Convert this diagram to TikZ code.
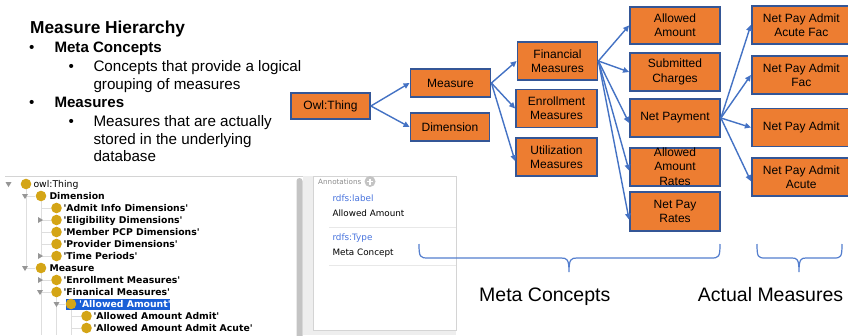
\documentclass[tikz,border=0pt]{standalone}
\usepackage{fontspec}
\setmainfont{Liberation Sans}
\newfontfamily\uifont{DejaVu Sans}
\usetikzlibrary{arrows.meta}

\definecolor{boxfill}{RGB}{237,125,49}
\definecolor{boxline}{RGB}{52,86,150}
\definecolor{linkblue}{RGB}{68,114,196}
\definecolor{bracecol}{RGB}{84,126,206}
\definecolor{dotgold}{RGB}{212,165,22}
\definecolor{selblue}{RGB}{25,95,215}
\definecolor{rdfsblue}{RGB}{72,116,222}
\definecolor{trigray}{RGB}{150,150,150}
\definecolor{bordergray}{RGB}{212,212,212}
\definecolor{sepgray}{RGB}{232,232,232}
\definecolor{panelgray}{RGB}{238,238,238}
\definecolor{scrollgray}{RGB}{196,196,196}
\definecolor{treeline}{RGB}{222,222,222}
\definecolor{annogray}{RGB}{140,140,140}

\tikzset{
  mbox/.style={draw=boxline, line width=1.8pt, fill=boxfill, inner sep=0pt,
    align=center, font=\fontsize{12}{14.3}\selectfont, minimum height=38pt},
  conn/.style={draw=linkblue, line width=1.4pt, -{Triangle[length=6pt,width=5.5pt]}},
  bracepath/.style={draw=bracecol, line width=1.2pt},
  hdrtxt/.style={anchor=base west, inner sep=0pt, font=\fontsize{17.3}{20}\selectfont\bfseries},
  lvlone/.style={anchor=base west, inner sep=0pt, font=\fontsize{15.1}{18}\selectfont\bfseries},
  lvltwo/.style={anchor=base west, inner sep=0pt, font=\fontsize{15.2}{18}\selectfont},
  bigtxt/.style={anchor=base west, inner sep=0pt, font=\fontsize{19.5}{22}\selectfont},
  treebold/.style={anchor=base west, inner sep=0pt, font=\uifont\fontsize{9.3}{10}\selectfont\bfseries},
  treeplain/.style={anchor=base west, inner sep=0pt, font=\uifont\fontsize{9.3}{10}\selectfont},
  annotxt/.style={anchor=base west, inner sep=0pt, font=\uifont\fontsize{8.8}{10}\selectfont},
  gdot/.style={fill=dotgold},
  treelink/.style={draw=treeline, line width=0.8pt},
}
\newcommand\tridown[2]{\fill[trigray, shift={(#1,#2)}] (-3,-2) -- (3,-2) -- (0,3) -- cycle;}
\newcommand\triright[2]{\fill[trigray, shift={(#1,#2)}] (-2,-3) -- (-2,3) -- (3,0) -- cycle;}

\begin{document}
\begin{tikzpicture}[x=1pt, y=-1pt]
\useasboundingbox (0,0) rectangle (848,335);
\clip (0,0) rectangle (848,335);
\fill[white] (0,0) rectangle (848,335);

% ---------- heading and bullet list ----------
\node[hdrtxt] (hdr) at (30,33.3) {Measure Hierarchy};
\node[lvltwo] (bA) at (29,52.7) {•};
\node[lvlone] (metaA) at (54.3,52.7) {Meta Concepts};
\node[lvltwo] (bA1) at (68.5,71.7) {•};
\node[lvltwo] (metaA1) at (93.3,71.7) {Concepts that provide a logical};
\node[lvltwo] (metaA2) at (93.3,89.5) {grouping of measures};
\node[lvltwo] (bB) at (29,107.3) {•};
\node[lvlone] (measB) at (54.3,107.3) {Measures};
\node[lvltwo] (bB1) at (68.5,126.7) {•};
\node[lvltwo] (measB1) at (93.3,126.7) {Measures that are actually};
\node[lvltwo] (measB2) at (93.3,144.3) {stored in the underlying};
\node[lvltwo] (measB3) at (93.3,161.7) {database};

% ---------- class tree panel ----------
\fill[panelgray] (303,176) rectangle (313,335);
\fill[panelgray] (313,330) rectangle (456,335);
\draw[bordergray, line width=0.8pt] (5,176) -- (303,176);
\fill[scrollgray, rounded corners=3pt] (296.5,178) rectangle (302.5,345);

% tree guide lines
\draw[treelink] (26,189) -- (26,268);
\draw[treelink] (26,196) -- (35,196) (26,268) -- (35,268);
\draw[treelink] (41,201) -- (41,256);
\foreach \yy in {208,220,232,244,256} \draw[treelink] (41,\yy) -- (51,\yy);
\draw[treelink] (41,273) -- (41,335);
\foreach \yy in {280,292} \draw[treelink] (41,\yy) -- (51,\yy);
\draw[treelink] (56.5,297) -- (56.5,335);
\draw[treelink] (56.5,304) -- (65,304);
\draw[treelink] (71,309) -- (71,335);
\foreach \yy in {316,328} \draw[treelink] (71,\yy) -- (81,\yy);

% selection
\fill[selblue] (65.5,298.5) rectangle (170,310);

% expanders
\tridown{8.5}{184}
\tridown{25}{196}
\triright{40}{220}
\triright{40}{256}
\tridown{25}{268}
\triright{40}{280}
\tridown{40}{292}
\tridown{56.5}{304}

% class dots
\foreach \xx/\yy in {26/184, 41/196, 56.5/208, 56.5/220, 56.5/232, 56.5/244, 56.5/256,
  41/268, 56.5/280, 56.5/292, 71/304, 86.5/316, 86.5/328}
  \fill[gdot] (\xx,\yy) circle (5.3pt);

% class names
\node[treeplain] (tOwl) at (33.3,187.4) {owl:Thing};
\node[treebold] (tDim) at (49.3,199.4) {Dimension};
\node[treebold] (tAdm) at (63.3,211.4) {'Admit Info Dimensions'};
\node[treebold] (tEli) at (63.3,223.4) {'Eligibility Dimensions'};
\node[treebold] (tMem) at (63.3,235.4) {'Member PCP Dimensions'};
\node[treebold] (tPro) at (63.3,247.4) {'Provider Dimensions'};
\node[treebold] (tTim) at (63.3,259.4) {'Time Periods'};
\node[treebold] (tMea) at (49.3,271.4) {Measure};
\node[treebold] (tEnr) at (63.3,283.4) {'Enrollment Measures'};
\node[treebold] (tFin) at (63.3,295.4) {'Finanical Measures'};
\node[treebold, text=white] (tAll) at (79,307.4) {'Allowed Amount'};
\node[treebold] (tAAd) at (93.3,319.4) {'Allowed Amount Admit'};
\node[treebold] (tAAc) at (93.3,331.4) {'Allowed Amount Admit Acute'};

% ---------- annotations panel ----------
\draw[bordergray, line width=0.8pt, fill=white] (313,176) rectangle (456,330);
\draw[sepgray, line width=0.8pt] (329,227.3) -- (456,227.3);
\draw[sepgray, line width=0.8pt] (329,265) -- (456,265);
\node[anchor=base west, inner sep=0pt, text=annogray, font=\uifont\fontsize{7.2}{9}\selectfont] (anno) at (318,184.3) {Annotations};
\fill[scrollgray] (370,181.5) circle (5.5pt);
\draw[white, line width=1.4pt] (367,181.5) -- (373,181.5) (370,178.5) -- (370,184.5);
\node[annotxt, text=rdfsblue] (lblKey) at (332.3,201.5) {rdfs:label};
\node[annotxt] (lblVal) at (332.3,216.5) {Allowed Amount};
\node[annotxt, text=rdfsblue] (typKey) at (332.3,240) {rdfs:Type};
\node[annotxt] (typVal) at (332.3,255.5) {Meta Concept};

% ---------- measure hierarchy diagram ----------
\node[mbox, minimum width=79pt, minimum height=26pt] (owl) at (330.5,106) {Owl:Thing};
\node[mbox, minimum width=80pt, minimum height=27.7pt] (measure) at (450.5,83) {Measure};
\node[mbox, minimum width=79pt, minimum height=27.7pt] (dimension) at (450,127) {Dimension};

\node[mbox, minimum width=80pt] (fin) at (557.5,61) {Financial\\Measures};
\node[mbox, minimum width=81pt] (enr) at (556.5,108.5) {Enrollment\\Measures};
\node[mbox, minimum width=81pt] (util) at (556.5,157.2) {Utilization\\Measures};

\node[mbox, minimum width=90pt, minimum height=37.3pt] (allowed) at (675,25.4) {Allowed\\Amount};
\node[mbox, minimum width=90pt, minimum height=37.3pt] (submitted) at (675,72) {Submitted\\Charges};
\node[mbox, minimum width=90pt, minimum height=37.3pt] (netpay) at (675,118) {Net Payment};
\node[mbox, minimum width=90pt] (aarates) at (675,166.7) {Allowed\\Amount\\Rates};
\node[mbox, minimum width=90pt, minimum height=38.7pt] (nprates) at (675,211.7) {Net Pay\\Rates};

\node[mbox, minimum width=99pt] (npaaf) at (801.3,24.9) {Net Pay Admit\\Acute Fac};
\node[mbox, minimum width=99pt] (npaf) at (801.3,75) {Net Pay Admit\\Fac};
\node[mbox, minimum width=99pt] (npa) at (801.3,127.5) {Net Pay Admit};
\node[mbox, minimum width=99pt] (npaac) at (801.3,177.2) {Net Pay Admit\\Acute};

\draw[conn] (owl.east) -- (measure.west);
\draw[conn] (owl.east) -- (dimension.west);
\draw[conn] (measure.east) -- (fin.west);
\draw[conn] (measure.east) -- (enr.west);
\draw[conn] (measure.east) -- ([yshift=-4pt]util.west);
\draw[conn] (fin.east) -- (allowed.west);
\draw[conn] (fin.east) -- (submitted.west);
\draw[conn] (fin.east) -- ([yshift=-5pt]netpay.west);
\draw[conn] (fin.east) -- ([yshift=-4pt]aarates.west);
\draw[conn] (fin.east) -- ([yshift=-8pt]nprates.west);
\draw[conn] (netpay.east) -- (npaaf.west);
\draw[conn] (netpay.east) -- (npaf.west);
\draw[conn] (netpay.east) -- (npa.west);
\draw[conn] (netpay.east) -- ([yshift=-4pt]npaac.west);

% ---------- group braces ----------
\draw[bracepath] (419,244) .. controls (419,257) and (420,258) .. (428,258)
  -- (561,258) .. controls (567,258) and (569,259) .. (569,272)
  .. controls (569,259) and (571,258) .. (577,258)
  -- (711,258) .. controls (719,258) and (720,257) .. (720,244);
\draw[bracepath] (757,244) .. controls (757,257) and (758,258) .. (765,258)
  -- (792,258) .. controls (797,258) and (799,259) .. (799,272)
  .. controls (799,259) and (801,258) .. (806,258)
  -- (834,258) .. controls (841,258) and (842,257) .. (842,244);

\node[bigtxt] (metaLbl) at (479,301.7) {Meta Concepts};
\node[bigtxt] (actLbl) at (697.7,301.7) {Actual Measures};
\end{tikzpicture}
\end{document}
